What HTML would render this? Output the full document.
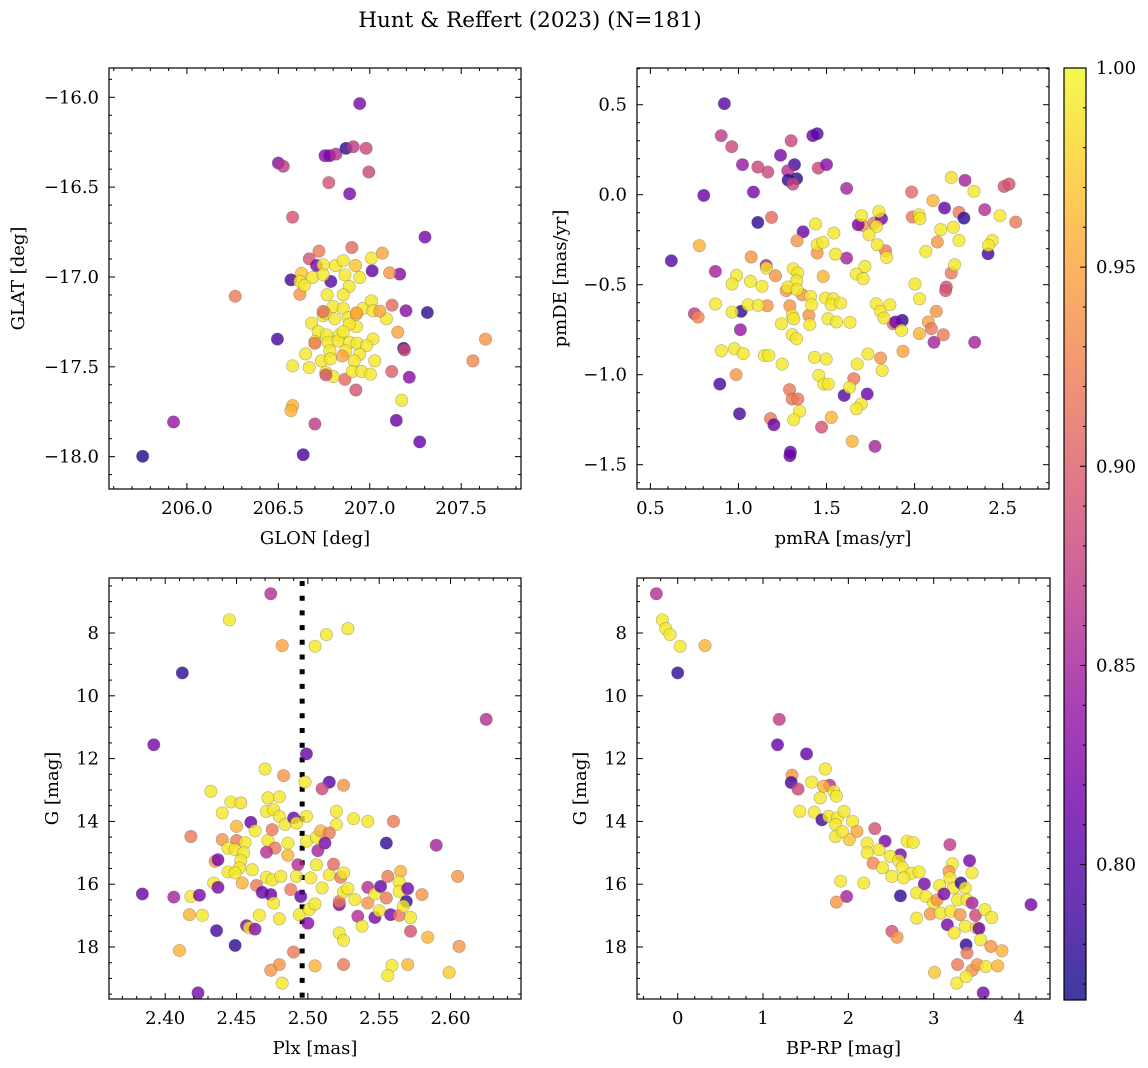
<!DOCTYPE html>
<html><head><meta charset="utf-8">
<style>
html,body{margin:0;padding:0;background:#fff;}
svg{display:block;font-family:"DejaVu Serif","Liberation Serif",serif;}
</style></head>
<body>
<svg id="fig" width="1148" height="1068" viewBox="0 0 1148 1068" xmlns="http://www.w3.org/2000/svg">
<rect width="1148" height="1068" fill="#fff"/>
<text x="530" y="27" font-size="21.5" text-anchor="middle">Hunt &amp; Reffert (2023) (N=181)</text>
</svg>
<script>
// ---- Panel 1: GLON / GLAT ----
const glon=[206.945,206.755,206.78,206.815,206.87,206.91,206.98,206.5,206.527,206.995,206.776,206.89,206.578,207.302,206.264,206.495,206.569,205.927,205.758,206.636,206.7,206.578,206.569,207.145,207.273,207.175,207.633,207.564,207.216,207.12,206.924,206.864,207.315,207.198,207.122,207.153,207.185,207.19,207.164,207.109,207.069,207.013,207.009,206.902,206.722,206.669,206.709,206.618,206.787,206.745,206.813,206.855,206.922,206.864,206.945,206.627,206.687,206.745,206.618,206.642,206.887,206.855,206.767,206.8,206.855,206.745,206.809,206.882,206.927,206.964,207.009,207.018,207.091,206.682,206.718,206.764,206.833,206.927,207.018,206.7,206.773,206.827,206.891,206.931,206.982,206.782,206.869,206.945,206.649,206.736,206.785,206.915,207.027,206.578,206.669,206.76,206.8,206.904,206.955,207.004,206.755,206.887,206.855,206.745,206.7,206.85,207.055,206.927,206.76];
const glat=[-16.035,-16.325,-16.325,-16.316,-16.284,-16.275,-16.284,-16.366,-16.384,-16.416,-16.475,-16.537,-16.667,-16.778,-17.107,-17.346,-17.016,-17.807,-17.998,-17.989,-17.818,-17.716,-17.744,-17.798,-17.918,-17.686,-17.346,-17.467,-17.558,-17.526,-17.629,-17.57,-17.198,-17.188,-17.157,-17.307,-17.397,-17.406,-16.984,-16.977,-16.867,-16.966,-16.895,-16.836,-16.856,-16.899,-16.936,-17.097,-17.025,-16.932,-16.936,-16.91,-16.936,-16.988,-17.003,-16.979,-17.003,-16.988,-17.025,-17.047,-17.053,-17.099,-17.099,-17.164,-17.174,-17.215,-17.233,-17.226,-17.207,-17.174,-17.133,-17.188,-17.233,-17.257,-17.304,-17.322,-17.322,-17.276,-17.345,-17.359,-17.363,-17.356,-17.363,-17.369,-17.382,-17.411,-17.411,-17.43,-17.428,-17.467,-17.456,-17.467,-17.467,-17.495,-17.504,-17.53,-17.554,-17.526,-17.526,-17.541,-17.201,-17.263,-17.304,-17.192,-17.369,-17.44,-17.19,-17.2,-17.545];
const prob1=[0.82,0.83,0.82,0.86,0.78,0.87,0.88,0.83,0.87,0.88,0.89,0.82,0.89,0.82,0.92,0.79,0.79,0.84,0.77,0.79,0.87,0.96,0.96,0.81,0.81,0.99,0.94,0.93,0.83,0.9,0.89,0.91,0.78,0.83,0.91,0.95,0.78,0.88,0.83,0.94,0.95,0.81,0.99,0.91,0.92,0.89,0.82,0.94,0.8,0.99,0.99,0.99,0.97,0.99,0.99,0.97,0.99,0.99,0.99,0.99,0.99,0.99,0.99,0.99,0.99,0.99,0.99,0.99,0.98,0.99,0.99,0.99,0.99,0.99,0.99,0.99,0.99,0.99,0.99,0.99,0.99,0.99,0.99,0.99,0.99,0.99,0.99,0.99,0.99,0.99,0.99,0.99,0.99,0.99,0.99,0.99,0.99,0.99,0.99,0.99,0.99,0.99,0.99,0.91,0.92,0.95,0.95,0.95,0.89];

// ---- Panel 2: pmRA / pmDE ----
const pmra=[0.92,0.902,0.962,1.023,1.11,1.167,1.085,0.803,1.239,1.299,1.318,1.28,1.282,1.33,1.309,1.422,1.447,1.453,1.5,1.614,1.11,1.188,1.367,0.619,0.778,0.869,1.072,1.157,1.333,1.614,0.75,0.771,1.015,1.011,0.894,0.987,1.006,1.182,1.201,1.29,1.305,1.337,1.295,1.292,1.472,1.646,1.775,1.6,1.731,1.655,1.527,1.481,1.21,1.163,1.292,1.271,1.362,1.4,1.447,1.703,1.769,1.812,1.68,1.835,1.879,1.93,1.892,1.807,1.934,1.983,1.987,2.104,2.17,2.208,2.286,2.252,2.28,2.398,2.508,2.536,2.574,2.129,2.208,2.18,2.176,2.123,2.078,2.095,2.163,2.11,2.341,2.417,2.027,
1.699,1.797,1.784,1.741,1.788,1.841,1.438,1.542,1.447,1.479,1.551,1.718,1.669,1.708,1.311,1.337,1.33,1.28,1.333,0.989,0.964,1.068,1.134,1.159,0.869,0.964,1.055,1.112,1.409,1.415,1.494,1.538,1.527,1.58,1.305,1.314,1.244,1.405,1.508,1.557,1.633,1.305,1.33,1.782,1.807,1.86,1.826,1.926,2.002,2.028,2.064,2.025,2.03,2.148,2.22,2.252,2.227,2.337,2.485,2.441,2.419,0.903,0.977,1.027,1.148,1.172,1.248,1.432,1.498,1.456,1.485,1.51,1.735,1.674,1.816,1.631,1.697,1.67,1.347,1.314];
const pmde=[0.506,0.328,0.267,0.167,0.154,0.126,0.015,-0.004,0.219,0.3,0.167,0.133,0.081,0.089,0.059,0.328,0.339,0.148,0.167,0.035,-0.154,-0.126,-0.206,-0.367,-0.283,-0.426,-0.346,-0.393,-0.256,-0.352,-0.661,-0.68,-0.648,-0.75,-1.052,-1.0,-1.217,-1.244,-1.278,-1.083,-1.135,-1.135,-1.43,-1.45,-1.291,-1.37,-1.398,-1.115,-1.107,-1.022,-1.237,-0.454,-0.45,-0.617,-0.617,-0.533,-0.556,-0.67,-0.324,-0.17,-0.157,-0.133,-0.167,-0.311,-0.717,-0.698,-0.707,-0.907,-0.87,0.015,-0.124,-0.033,-0.074,0.096,0.08,-0.098,-0.13,-0.083,0.046,0.059,-0.152,-0.263,-0.435,-0.513,-0.533,-0.648,-0.707,-0.744,-0.778,-0.82,-0.82,-0.328,-0.772,
-0.117,-0.093,-0.176,-0.222,-0.278,-0.348,-0.163,-0.213,-0.278,-0.265,-0.33,-0.398,-0.441,-0.467,-0.411,-0.435,-0.478,-0.513,-0.528,-0.448,-0.496,-0.481,-0.509,-0.407,-0.607,-0.652,-0.611,-0.615,-0.565,-0.611,-0.574,-0.578,-0.611,-0.602,-0.67,-0.689,-0.717,-0.722,-0.689,-0.707,-0.709,-0.778,-0.8,-0.606,-0.648,-0.611,-0.685,-0.754,-0.496,-0.578,-0.315,-0.111,-0.133,-0.194,-0.181,-0.254,-0.389,0.019,-0.117,-0.254,-0.281,-0.867,-0.856,-0.883,-0.893,-0.893,-0.941,-0.904,-0.913,-1.004,-1.052,-1.052,-0.885,-0.941,-0.976,-1.07,-1.163,-1.189,-1.204,-1.25];
const prob2=[0.8,0.87,0.88,0.84,0.88,0.88,0.82,0.81,0.82,0.88,0.79,0.86,0.78,0.78,0.88,0.81,0.8,0.88,0.83,0.85,0.78,0.91,0.81,0.8,0.96,0.85,0.94,0.85,0.94,0.85,0.87,0.93,0.78,0.84,0.79,0.94,0.79,0.92,0.81,0.92,0.92,0.92,0.81,0.81,0.89,0.96,0.85,0.8,0.81,0.92,0.96,0.96,0.94,0.94,0.94,0.94,0.94,0.94,0.94,0.94,0.92,0.82,0.82,0.92,0.91,0.78,0.82,0.94,0.95,0.91,0.92,0.96,0.81,0.985,0.85,0.92,0.78,0.86,0.89,0.89,0.92,0.94,0.92,0.89,0.89,0.94,0.95,0.92,0.92,0.85,0.85,0.79,0.96,
0.99,0.99,0.99,0.99,0.99,0.99,0.99,0.99,0.99,0.99,0.99,0.99,0.99,0.99,0.99,0.99,0.99,0.99,0.99,0.99,0.99,0.99,0.99,0.99,0.99,0.99,0.99,0.99,0.99,0.99,0.99,0.99,0.99,0.99,0.99,0.99,0.99,0.99,0.99,0.99,0.99,0.99,0.99,0.99,0.99,0.99,0.99,0.99,0.99,0.99,0.99,0.99,0.99,0.99,0.99,0.99,0.99,0.99,0.99,0.99,0.99,0.99,0.99,0.99,0.99,0.99,0.99,0.99,0.99,0.99,0.99,0.99,0.99,0.99,0.99,0.99,0.99,0.99,0.99,0.99];

// ---- Panel 3: Plx / G ----
const plx=[2.474,2.445,2.482,2.505,2.513,2.528,2.412,2.392,2.625,2.499,2.47,2.483,2.498,2.515,2.51,2.525,2.432,2.446,2.453,2.44,2.472,2.48,2.471,2.476,2.48,2.484,2.49,2.492,2.499,2.52,2.52,2.532,2.542,2.56,2.46,2.463,2.45,2.418,2.44,2.45,2.456,2.444,2.449,2.455,2.453,2.452,2.472,2.475,2.477,2.486,2.471,2.486,2.499,2.506,2.509,2.515,2.512,2.507,2.493,2.506,2.435,2.437,2.444,2.449,2.461,2.454,2.464,2.471,2.475,2.481,2.492,2.502,2.515,2.518,2.523,2.525,2.434,2.437,2.384,2.406,2.418,2.424,2.417,2.426,2.436,2.449,2.41,2.423,2.457,2.459,2.463,2.466,2.468,2.474,2.476,2.48,2.488,2.494,2.495,2.5,2.501,2.505,2.51,2.522,2.522,2.525,2.528,2.533,2.535,2.538,2.542,2.542,2.547,2.551,2.555,2.547,2.55,2.556,2.558,2.564,2.565,2.564,2.564,2.57,2.569,2.567,2.572,2.572,2.58,2.584,2.555,2.59,2.605,2.606,2.599,2.522,2.525,2.49,2.48,2.474,2.482,2.505,2.525,2.559,2.556,2.57];
const gmag3=[6.75,7.58,8.4,8.42,8.05,7.86,9.27,11.56,10.75,11.85,12.33,12.54,12.75,12.75,12.96,12.85,13.04,13.38,13.41,13.73,13.25,13.22,13.68,13.63,13.84,14.1,13.89,14.05,13.84,13.68,14.1,13.91,14.0,14.0,14.03,14.3,14.16,14.48,14.58,14.61,14.67,14.85,14.9,15.0,15.25,15.48,14.61,14.26,14.85,14.69,14.98,15.08,14.63,14.51,14.3,14.37,14.69,14.93,15.38,15.38,15.27,15.22,15.61,15.64,15.54,15.96,16.04,15.78,15.86,15.75,15.75,15.8,15.7,15.36,15.78,15.64,15.96,16.1,16.31,16.41,16.39,16.35,16.97,16.99,17.48,17.95,18.11,19.46,17.32,17.39,17.43,16.99,16.26,16.33,16.6,17.1,16.17,16.97,16.39,17.24,16.8,16.63,16.12,16.65,16.55,16.25,16.14,16.49,17.02,17.34,16.6,16.1,16.31,16.07,16.44,17.06,16.84,15.75,16.97,16.99,15.59,15.93,16.23,16.14,16.55,16.7,17.06,17.5,16.33,17.69,14.69,14.76,15.75,17.98,18.81,17.55,17.79,18.16,18.56,18.74,19.15,18.6,18.56,18.59,18.91,18.56];
const prob3=[0.86,0.99,0.95,0.99,0.99,0.99,0.78,0.82,0.86,0.81,0.99,0.94,0.99,0.8,0.88,0.94,0.99,0.99,0.985,0.99,0.99,0.99,0.99,0.99,0.99,0.99,0.81,0.99,0.99,0.99,0.99,0.99,0.99,0.92,0.81,0.99,0.96,0.92,0.94,0.92,0.99,0.99,0.99,0.99,0.99,0.99,0.99,0.92,0.92,0.99,0.86,0.96,0.99,0.99,0.96,0.92,0.82,0.85,0.86,0.99,0.94,0.82,0.99,0.99,0.99,0.96,0.92,0.99,0.99,0.99,0.99,0.99,0.99,0.91,0.92,0.99,0.99,0.82,0.81,0.85,0.99,0.82,0.96,0.99,0.79,0.78,0.96,0.82,0.83,0.99,0.83,0.99,0.81,0.81,0.99,0.99,0.92,0.99,0.81,0.83,0.99,0.99,0.99,0.82,0.92,0.99,0.99,0.99,0.86,0.99,0.94,0.86,0.99,0.81,0.92,0.82,0.99,0.92,0.82,0.92,0.96,0.99,0.99,0.82,0.78,0.99,0.99,0.89,0.94,0.96,0.78,0.85,0.94,0.94,0.975,0.99,0.99,0.92,0.94,0.94,0.99,0.96,0.92,0.99,0.99,0.96];

// ---- Panel 4: BP-RP / G ----
const bprp=[-0.25,-0.18,-0.14,-0.09,0.03,0.32,0.0,1.19,1.17,1.51,1.73,1.34,1.33,1.41,1.57,1.78,1.71,1.83,1.86,1.67,1.43,1.6,1.69,1.77,1.87,1.85,1.85,2.05,2.1,2.31,2.22,2.01,2.43,2.36,2.22,2.29,2.61,2.49,2.59,2.4,2.51,2.69,2.76,2.63,2.74,2.83,2.65,2.89,2.61,2.8,2.91,3.0,3.04,2.96,3.08,3.19,3.22,3.18,3.42,3.45,3.07,3.19,3.23,3.12,3.32,3.37,3.28,3.39,3.45,3.2,3.31,3.49,3.16,3.24,3.37,3.5,3.53,3.6,3.68,3.55,3.38,3.39,3.67,3.8,3.28,3.45,3.51,3.61,3.75,3.01,3.27,3.38,3.58,4.14,2.51,2.57,2.8,1.91,2.18,1.98,1.86,1.95,1.93];
const gmag4=[6.75,7.58,7.86,8.05,8.42,8.4,9.27,10.75,11.56,11.85,12.33,12.53,12.76,12.97,12.75,12.85,12.88,13.04,13.2,13.25,13.68,13.71,13.95,13.84,13.89,14.1,14.48,14.0,14.32,14.23,14.69,14.58,14.63,14.9,15.0,15.33,15.06,15.11,15.25,15.48,15.75,14.63,14.67,15.46,15.65,15.61,15.8,15.99,16.37,16.28,16.39,16.6,16.5,16.95,16.92,14.74,15.35,15.59,15.25,15.64,16.04,15.8,16.12,16.31,15.96,16.12,16.5,16.5,16.6,16.86,16.97,16.99,17.29,17.55,17.34,17.39,17.41,16.81,17.06,17.77,17.93,18.19,17.98,18.12,18.56,18.74,18.56,18.62,18.6,18.81,19.15,18.94,19.46,16.65,17.5,17.69,17.08,15.9,15.96,16.39,16.57,13.68,14.32];
const prob4=[0.86,0.99,0.99,0.99,0.99,0.96,0.78,0.87,0.81,0.81,0.99,0.94,0.79,0.88,0.99,0.86,0.96,0.99,0.99,0.99,0.99,0.99,0.79,0.99,0.99,0.99,0.99,0.99,0.95,0.89,0.99,0.97,0.82,0.99,0.99,0.93,0.82,0.99,0.99,0.99,0.99,0.99,0.99,0.99,0.99,0.99,0.99,0.82,0.78,0.99,0.99,0.99,0.94,0.94,0.99,0.87,0.99,0.94,0.82,0.99,0.99,0.99,0.99,0.82,0.78,0.99,0.99,0.99,0.85,0.99,0.94,0.88,0.82,0.99,0.99,0.99,0.81,0.99,0.99,0.99,0.78,0.92,0.94,0.96,0.92,0.94,0.94,0.99,0.96,0.97,0.99,0.99,0.82,0.82,0.89,0.94,0.99,0.99,0.99,0.85,0.94,0.99,0.99];

// ---- Axis tick labels ----
const ticks1x=[206.0,206.5,207.0,207.5], ticks1y=[-16.0,-16.5,-17.0,-17.5,-18.0];
const ticks2x=[0.5,1.0,1.5,2.0,2.5], ticks2y=[0.5,0.0,-0.5,-1.0,-1.5];
const ticks3x=[2.40,2.45,2.50,2.55,2.60], ticksGy=[8,10,12,14,16,18];
const ticks4x=[0,1,2,3,4];
const cbTicks=[0.80,0.85,0.90,0.95,1.00];
const plxLine=[2.496];

const NS='http://www.w3.org/2000/svg';
const svg=document.getElementById('fig');
function el(tag,attrs,parent){const e=document.createElementNS(NS,tag);for(const k in attrs)e.setAttribute(k,attrs[k]);(parent||svg).appendChild(e);return e;}
const VMIN=0.766,VMAX=1.0;
const plasma=[[13,8,135],[65,4,157],[106,0,168],[143,13,164],[177,42,144],[204,71,120],[225,100,98],[242,132,75],[252,166,54],[252,206,37],[240,249,33]];
function cmap(v){let t=(v-VMIN)/(VMAX-VMIN);t=Math.max(0,Math.min(1,t));const s=t*(plasma.length-1);const i=Math.min(Math.floor(s),plasma.length-2);const f=s-i;const a=plasma[i],b=plasma[i+1];return `rgb(${Math.round(a[0]+(b[0]-a[0])*f)},${Math.round(a[1]+(b[1]-a[1])*f)},${Math.round(a[2]+(b[2]-a[2])*f)})`;}
function fmt(v,d){const s=Math.abs(v).toFixed(d);return (v<0?'\u2212':'')+s;}
const FS=18;

function panel(o){
  const g=el('g',{});
  
  
  const sx=v=>o.x0+(v-o.xmin)/(o.xmax-o.xmin)*(o.x1-o.x0);
  const sy=v=>o.y1-(v-o.ymin)/(o.ymax-o.ymin)*(o.y1-o.y0);
  if(o.vline){o.vline.forEach(v=>{const l=el('line',{x1:sx(v),x2:sx(v),y1:o.y0+3,y2:o.y1,stroke:'#000','stroke-width':5,'stroke-dasharray':'5 9.7'},g);
    });}
  for(let i=0;i<o.xs.length;i++){
    const c=el('circle',{cx:sx(o.xs[i]),cy:sy(o.ys[i]),r:6.2,fill:cmap(o.ps[i]),'fill-opacity':0.8,stroke:'#555','stroke-opacity':0.45,'stroke-width':0.6},g);
    
    
  }
  el('rect',{x:o.x0,y:o.y0,width:o.x1-o.x0,height:o.y1-o.y0,fill:'none',stroke:'#000','stroke-width':1.2},g);
  const xs=Math.ceil(o.xmin/o.xminor-1e-9);
  for(let k=xs;k*o.xminor<=o.xmax+1e-9;k++){const v=k*o.xminor;const maj=Math.abs(v/o.xmajor-Math.round(v/o.xmajor))<1e-6;const L=maj?6:3;const X=sx(v);
    el('line',{x1:X,x2:X,y1:o.y1,y2:o.y1-L,stroke:'#000','stroke-width':1},g);el('line',{x1:X,x2:X,y1:o.y0,y2:o.y0+L,stroke:'#000','stroke-width':1},g);}
  const ys=Math.ceil(o.ymin/o.yminor-1e-9);
  for(let k=ys;k*o.yminor<=o.ymax+1e-9;k++){const v=k*o.yminor;const maj=Math.abs(v/o.ymajor-Math.round(v/o.ymajor))<1e-6;const L=maj?6:3;const Y=sy(v);
    el('line',{x1:o.x0,x2:o.x0+L,y1:Y,y2:Y,stroke:'#000','stroke-width':1},g);el('line',{x1:o.x1,x2:o.x1-L,y1:Y,y2:Y,stroke:'#000','stroke-width':1},g);}
  o.xt.forEach(v=>{const t=el('text',{x:sx(v),y:o.y1+25,'font-size':FS,'text-anchor':'middle'},g);t.textContent=fmt(v,o.xd);
    });
  o.yt.forEach(v=>{const t=el('text',{x:o.x0-10,y:sy(v)+6,'font-size':FS,'text-anchor':'end'},g);t.textContent=fmt(v,o.yd);
    });
  const xl=el('text',{x:(o.x0+o.x1)/2,y:o.y1+55,'font-size':FS,'text-anchor':'middle'},g);xl.textContent=o.xlabel;
  
  const yl=el('text',{x:0,y:0,'font-size':FS,'text-anchor':'middle',transform:`translate(${o.ylx},${(o.y0+o.y1)/2}) rotate(-90)`},g);yl.textContent=o.ylabel;
  
}

panel({name:'glon-glat-panel',x0:109,x1:521,y0:68,y1:489,xmin:205.574,xmax:207.827,ymin:-18.18,ymax:-15.837,xs:glon,ys:glat,ps:prob1,xminor:0.1,xmajor:0.5,yminor:0.1,ymajor:0.5,xt:ticks1x,yt:ticks1y,xd:1,yd:1,xlabel:'GLON [deg]',ylabel:'GLAT [deg]',ylx:24});
panel({name:'proper-motion-panel',x0:637,x1:1049,y0:68,y1:489,xmin:0.424,xmax:2.763,ymin:-1.635,ymax:0.704,xs:pmra,ys:pmde,ps:prob2,xminor:0.1,xmajor:0.5,yminor:0.1,ymajor:0.5,xt:ticks2x,yt:ticks2y,xd:1,yd:1,xlabel:'pmRA [mas/yr]',ylabel:'pmDE [mas/yr]',ylx:566});
panel({name:'parallax-magnitude-panel',x0:109,x1:521,y0:578,y1:999,xmin:2.3606,xmax:2.6494,ymin:-19.656,ymax:-6.248,xs:plx,ys:gmag3.map(v=>-v),ps:prob3,xminor:0.01,xmajor:0.05,yminor:0.5,ymajor:2,xt:ticks3x,yt:[],xd:2,yd:0,xlabel:'Plx [mas]',ylabel:'G [mag]',ylx:58,vline:plxLine});
panel({name:'color-magnitude-panel',x0:637,x1:1050,y0:578,y1:999,xmin:-0.477,xmax:4.363,ymin:-19.656,ymax:-6.248,xs:bprp,ys:gmag4.map(v=>-v),ps:prob4,xminor:0.2,xmajor:1,yminor:0.5,ymajor:2,xt:ticks4x,yt:[],xd:0,yd:0,xlabel:'BP-RP [mag]',ylabel:'G [mag]',ylx:586});
[[109],[637]].forEach(([x0])=>{ticksGy.forEach(v=>{const y=999-(-v+19.656)/(19.656-6.248)*(999-578);const t=el('text',{x:x0-10,y:y+6,'font-size':FS,'text-anchor':'end'});t.textContent=String(v);
  
  });});

const cb=el('g',{});


const defs=el('defs',{},cb);const lg=el('linearGradient',{id:'cbg',x1:0,y1:1,x2:0,y2:0},defs);
for(let i=0;i<=30;i++){const v=VMIN+(VMAX-VMIN)*i/30;el('stop',{offset:i/30,'stop-color':cmap(v),'stop-opacity':0.8},lg);}
const CB0=68,CB1=1000,cbY=v=>CB1-(v-VMIN)/(VMAX-VMIN)*(CB1-CB0);
el('rect',{x:1064,y:CB0,width:22,height:CB1-CB0,fill:'url(#cbg)',stroke:'#000','stroke-width':1.2},cb);
for(let k=77;k<=100;k++){const v=k/100;const maj=k%5===0;const Y=cbY(v);el('line',{x1:1086,x2:1086-(maj?6:3),y1:Y,y2:Y,stroke:'#000','stroke-width':1},cb);}
cbTicks.forEach(v=>{const t=el('text',{x:1096,y:cbY(v)+6,'font-size':FS},cb);t.textContent=v.toFixed(2);
  
  });
</script>
</body></html>
